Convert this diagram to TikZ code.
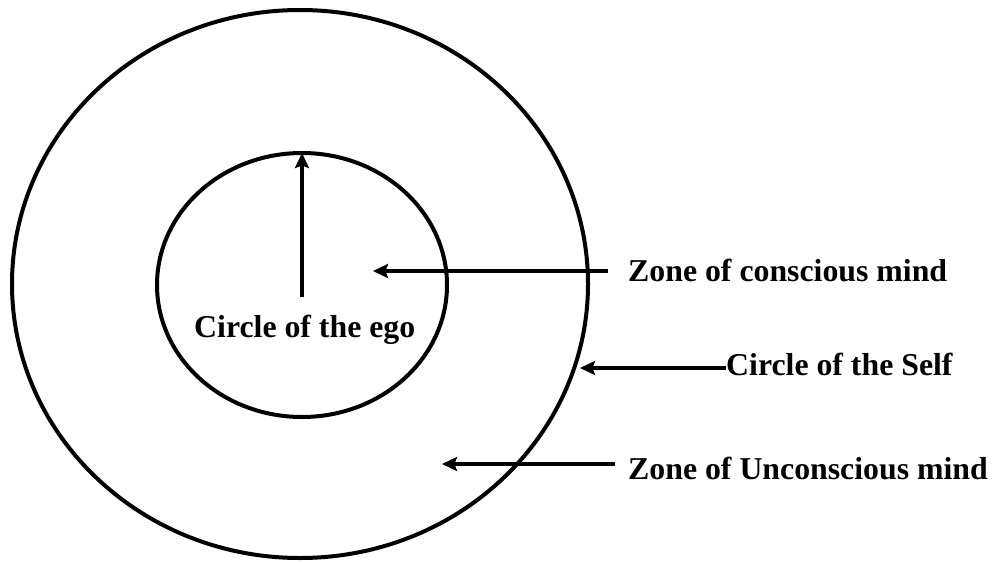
\documentclass[tikz,border=0pt]{standalone}
\usepackage{fontspec}
\setmainfont{Liberation Serif}
\usetikzlibrary{arrows.meta,shapes.geometric}
\begin{document}
\begin{tikzpicture}[x=1pt,y=-1pt,
  ring/.style={draw=black,line width=4pt,ellipse,inner sep=0pt,outer sep=0pt},
  lbl/.style={font=\fontsize{31.8}{38}\selectfont\bfseries,inner sep=0pt,anchor=base west},
  pointer/.style={draw=black,line width=3.2pt,-{Stealth[length=15pt,width=14pt,inset=2.5pt]}}]
\useasboundingbox (0,0) rectangle (1003,562);
\node[ring,minimum width=576pt,minimum height=548pt] (outer) at (300,284) {};
\node[ring,minimum width=290pt,minimum height=264pt] (inner) at (302,285) {};
\node[lbl] (ego) at (194,337) {Circle of the ego};
\node[lbl] (zc) at (628,281) {Zone of conscious mind};
\node[lbl] (cs) at (726,375) {Circle of the Self};
\node[lbl] (zu) at (628,479) {Zone of Unconscious mind};
\coordinate (egostart) at (302,297);
\coordinate (zcstart) at (608,271);
\coordinate (zctip) at (373,271);
\coordinate (cstip) at (580,368);
\coordinate (zustart) at (615,464);
\coordinate (zutip) at (442,464);
\draw[pointer] (egostart) -- (inner.north);
\draw[pointer] (zcstart) -- (zctip);
\draw[pointer] (cs.west |- cstip) -- (cstip);
\draw[pointer] (zustart) -- (zutip);
\end{tikzpicture}
\end{document}
